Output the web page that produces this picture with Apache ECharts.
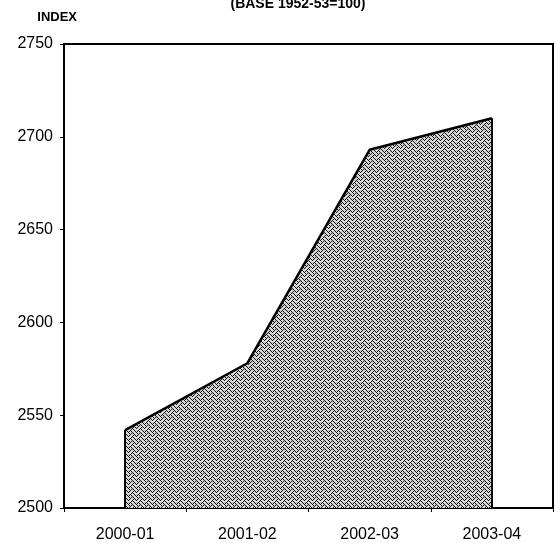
<!DOCTYPE html>
<html>
<head>
<meta charset="utf-8">
<script src="https://cdn.jsdelivr.net/npm/echarts@6/dist/echarts.min.js"></script>
<style>
html,body{margin:0;padding:0;background:#fff;}
#chart{width:555px;height:543px;}
</style>
</head>
<body>
<div id="chart"></div>
<script>
var categories = ['2000-01', '2001-02', '2002-03', '2003-04'];
var indexValues = [2542, 2578, 2693, 2710];
var yTicks = [2500, 2550, 2600, 2650, 2700, 2750];
var titleText = '(BASE 1952-53=100)';
var yName = 'INDEX';

function makePattern() {
  var rows = [0x88, 0x54, 0x22, 0x45, 0x88, 0x14, 0x22, 0x51];
  var c = document.createElement('canvas');
  c.width = 8; c.height = 8;
  var ctx = c.getContext('2d');
  ctx.fillStyle = '#d4d4d4';
  ctx.fillRect(0, 0, 8, 8);
  for (var y = 0; y < 8; y++) {
    for (var x = 0; x < 8; x++) {
      if (rows[y] & (0x80 >> x)) {
        ctx.fillStyle = '#141414';
        ctx.fillRect(x, y, 1, 1);
      }
    }
  }
  return c;
}

var font = 'Liberation Sans, Arial, sans-serif';
var chart = echarts.init(document.getElementById('chart'), null, {renderer: 'canvas'});
var first = categories[0], last = categories[categories.length - 1];
chart.setOption({
  animation: false,
  backgroundColor: '#fff',
  title: {
    text: titleText,
    left: 293, top: -8,
    textAlign: 'center',
    textStyle: {fontFamily: font, fontSize: 14, fontWeight: 'bold', color: '#000'}
  },
  grid: {left: 64, right: 2, top: 44, bottom: 35, show: true, borderColor: '#000', borderWidth: 2, backgroundColor: 'transparent'},
  xAxis: {
    type: 'category',
    data: categories,
    boundaryGap: true,
    axisLine: {lineStyle: {color: '#000', width: 2}},
    axisTick: {show: true, length: 4, lineStyle: {color: '#000'}},
    axisLabel: {color: '#000', fontFamily: font, fontSize: 16, margin: 19}
  },
  yAxis: {
    type: 'value',
    min: yTicks[0], max: yTicks[yTicks.length - 1], interval: 50,
    name: yName,
    nameLocation: 'end',
    nameGap: 20,
    nameTextStyle: {color: '#000', fontFamily: font, fontSize: 13, fontWeight: 'bold', align: 'right', padding: [0, -13, 0, 0]},
    splitLine: {show: false},
    axisLine: {show: true, lineStyle: {color: '#000', width: 2}},
    axisTick: {show: true, length: 4, lineStyle: {color: '#000'}},
    axisLabel: {color: '#000', fontFamily: font, fontSize: 16, margin: 11, formatter: function (v) { return String(v); }}
  },
  series: [{
    type: 'line',
    data: indexValues,
    symbol: 'none',
    lineStyle: {color: '#000', width: 2.5},
    areaStyle: {color: {image: makePattern(), repeat: 'repeat'}, opacity: 1},
    markLine: {
      silent: true,
      symbol: 'none',
      label: {show: false},
      lineStyle: {color: '#000', width: 2, type: 'solid'},
      data: [
        [{coord: [first, yTicks[0]]}, {coord: [first, indexValues[0]]}],
        [{coord: [last, yTicks[0]]}, {coord: [last, indexValues[indexValues.length - 1]]}]
      ]
    }
  }]
});
</script>
</body>
</html>
